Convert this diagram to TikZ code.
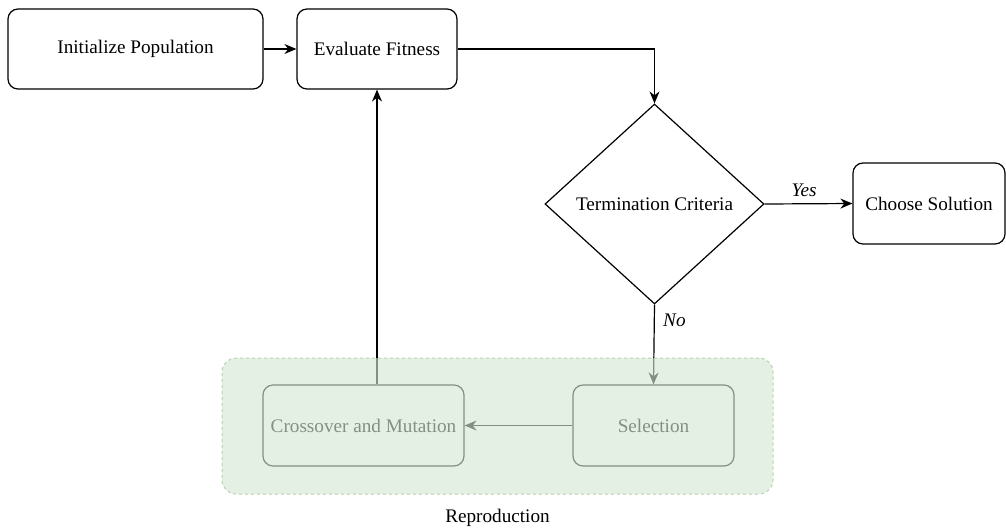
\documentclass[tikz,border=0pt]{standalone}
\usepackage{fontspec}
\setmainfont{Liberation Serif}
\newfontfamily\tnr{Liberation Serif}
\usetikzlibrary{shapes.geometric,arrows.meta}
\definecolor{grpfill}{HTML}{D5E8D4}
\definecolor{grpline}{HTML}{B5D3AE}
\begin{document}
\begin{tikzpicture}[x=1pt,y=-1pt,
  box/.style={draw=black,line width=1.2pt,rounded corners=10pt,font=\tnr\fontsize{19.2}{23}\selectfont,inner sep=0pt},
  dec/.style={draw=black,line width=1.2pt,diamond,inner sep=0pt,font=\tnr\fontsize{19.2}{23}\selectfont},
  conn/.style={line width=1.2pt,-{Stealth[length=12pt,width=10pt]}},
  lab/.style={font=\tnr\fontsize{19.2}{23}\selectfont\itshape}]
\useasboundingbox (0,0) rectangle (1006,531);
\fill[white] (0,0) rectangle (1006,531);
\node[box,minimum width=255pt,minimum height=80pt] (init) at (135.5,49) {Initialize Population};
\node[box,minimum width=160pt,minimum height=80pt] (eval) at (377,49) {Evaluate Fitness};
\node[dec,minimum width=219pt,minimum height=200pt] (term) at (654.5,204) {Termination Criteria};
\node[box,minimum width=152pt,minimum height=81pt] (choose) at (929,203.5) {Choose Solution};
\node[box,minimum width=201pt,minimum height=81pt] (cross) at (363.5,425.5) {Crossover and Mutation};
\node[box,minimum width=161pt,minimum height=81pt] (sel) at (653.5,425.5) {Selection};
\coordinate (corner) at (654.5,49);
\draw[conn] (init) -- (eval);
\draw[conn] (eval.east) -- (corner) -- (term.north);
\draw[conn] (term.east) -- node[lab,above=3pt,pos=0.45] (yes) {Yes} (choose.west);
\draw[conn] (term.south) -- node[lab,right=5pt,pos=0.2] (no) {No} (sel.north);
\draw[conn] (sel.west) -- (cross.east);
\draw[conn] (cross.north-|eval.south) -- (eval.south);
\node[draw=grpline,dashed,line width=1pt,rounded corners=14pt,fill=grpfill,fill opacity=0.62,draw opacity=1,minimum width=551pt,minimum height=136pt] (grp) at (497.5,426) {};
\node[font=\tnr\fontsize{19.2}{23}\selectfont,anchor=north] (repro) at (497.5,506) {Reproduction};
\end{tikzpicture}
\end{document}
